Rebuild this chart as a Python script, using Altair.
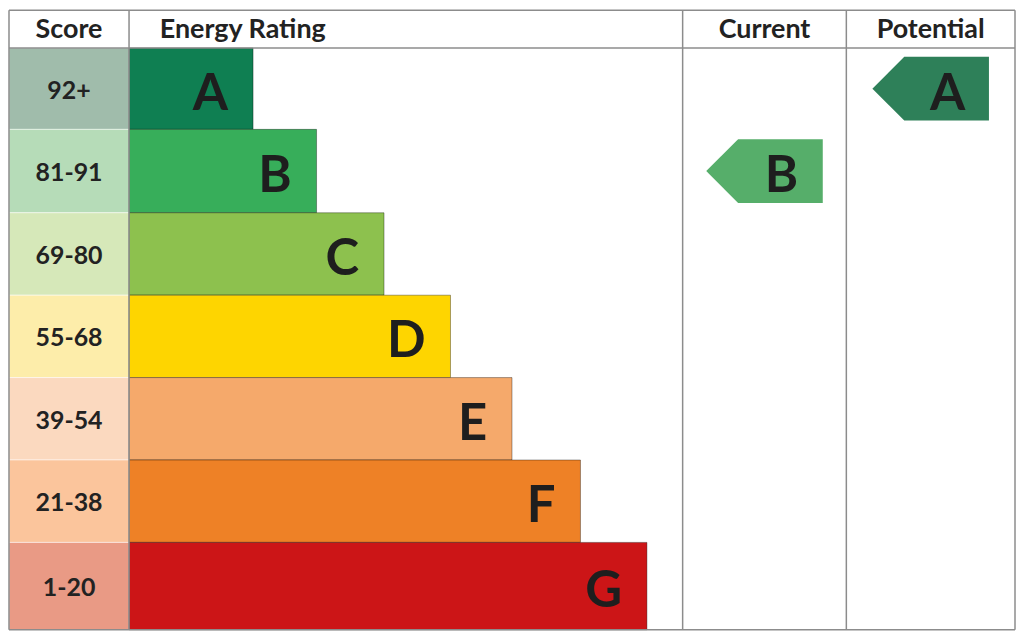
import pandas as pd
import altair as alt

# Bands, score ranges and the length of each rating bar (same units as the table)
bands = ["A", "B", "C", "D", "E", "F", "G"]
scores = ["92+", "81-91", "69-80", "55-68", "39-54", "21-38", "1-20"]
bar_length = [125, 189, 257, 324, 386, 455, 522]
band_colors = ["#0f7f52", "#37ae5a", "#8dc14e", "#fed500", "#f5a96b", "#ee8126", "#cc1517"]
score_colors = ["#a0bcab", "#b6dcb8", "#d6e8b9", "#fdedaa", "#fbd9bf", "#fbc59c", "#e99a85"]

# Table layout: column edges, header height, row edges
columns = ["Score", "Energy Rating", "Current", "Potential"]
col_edges = [0, 121, 679, 844, 1014]
row_edges = [38, 120, 204, 287, 370, 453, 536, 624]

# Ratings shown as arrows
current_rating = "B"
potential_rating = "A"
current_color = "#56ae6a"
potential_color = "#2e8059"

W, H = 1014, 624
xs = alt.Scale(domain=[0, W], nice=False, zero=False)
ys = alt.Scale(domain=[H, 0], nice=False, zero=False)
FONT = "Lato"

rows = pd.DataFrame({
    "band": bands,
    "score": scores,
    "top": row_edges[:-1],
    "bottom": row_edges[1:],
    "bar_start": [col_edges[1]] * 7,
    "bar_end": [col_edges[1] + b for b in bar_length],
    "band_color": band_colors,
    "score_color": score_colors,
})
rows["mid"] = (rows["top"] + rows["bottom"]) / 2
rows["score_x"] = (col_edges[0] + col_edges[1]) / 2
rows["score_x0"] = col_edges[0]

score_cells = alt.Chart(rows).mark_rect(stroke="#ffffff", strokeWidth=1, strokeOpacity=0.5).encode(
    x=alt.X("score_x0:Q", scale=xs, axis=None),
    x2="bar_start:Q",
    y=alt.Y("top:Q", scale=ys, axis=None),
    y2="bottom:Q",
    color=alt.Color("score_color:N", scale=None),
)

score_text = alt.Chart(rows).mark_text(
    font=FONT, fontWeight="bold", fontSize=25, color="#222222", baseline="middle", dy=2
).encode(
    x=alt.X("score_x:Q", scale=xs),
    y=alt.Y("mid:Q", scale=ys),
    text="score:N",
)

bars = alt.Chart(rows).mark_rect(stroke="#000000", strokeOpacity=0.35, strokeWidth=1).encode(
    x=alt.X("bar_start:Q", scale=xs),
    x2="bar_end:Q",
    y=alt.Y("top:Q", scale=ys),
    y2="bottom:Q",
    color=alt.Color("band_color:N", scale=None),
)

letters = alt.Chart(rows).mark_text(
    font=FONT, fontWeight="bold", fontSize=51, color="#1e1e1e",
    align="right", baseline="middle", dx=-25, dy=6,
).encode(
    x=alt.X("bar_end:Q", scale=xs),
    y=alt.Y("mid:Q", scale=ys),
    text="band:N",
)

# Header texts
header = pd.DataFrame({
    "label": columns,
    "x": [(col_edges[0] + col_edges[1]) / 2, col_edges[1] + 31,
          (col_edges[2] + col_edges[3]) / 2, (col_edges[3] + col_edges[4]) / 2],
    "align": ["center", "left", "center", "center"],
    "y": [row_edges[0] / 2] * 4,
})
header_c = alt.Chart(header[header["align"] == "center"]).mark_text(
    font=FONT, fontWeight="bold", fontSize=27, color="#222222", baseline="middle", align="center", dy=1
).encode(x=alt.X("x:Q", scale=xs), y=alt.Y("y:Q", scale=ys), text="label:N")
header_l = alt.Chart(header[header["align"] == "left"]).mark_text(
    font=FONT, fontWeight="bold", fontSize=27, color="#222222", baseline="middle", align="left", dy=1
).encode(x=alt.X("x:Q", scale=xs), y=alt.Y("y:Q", scale=ys), text="label:N")

# Grid lines
vlines = pd.DataFrame({"x": col_edges, "y0": 0, "y1": H})
hlines = pd.DataFrame({"y": [0, row_edges[0], H], "x0": 0, "x1": W})
vrule = alt.Chart(vlines).mark_rule(color="#8c8c8c", strokeWidth=1.5).encode(
    x=alt.X("x:Q", scale=xs), y=alt.Y("y0:Q", scale=ys), y2="y1:Q"
)
hrule = alt.Chart(hlines).mark_rule(color="#8c8c8c", strokeWidth=1.5).encode(
    y=alt.Y("y:Q", scale=ys), x=alt.X("x0:Q", scale=xs), x2="x1:Q"
)

# Arrows for current and potential ratings
arrow_df = pd.DataFrame({
    "col": ["Current", "Potential"],
    "band": [current_rating, potential_rating],
    "color": [current_color, potential_color],
})
arrow_df["x"] = [(col_edges[2] + col_edges[3]) / 2, (col_edges[3] + col_edges[4]) / 2]
arrow_df["y"] = [rows.set_index("band").loc[b, "mid"] for b in arrow_df["band"]]

arrow_path = "M -1 0 L -0.453 -0.547 L 1 -0.547 L 1 0.547 L -0.453 0.547 Z"
arrows = alt.Chart(arrow_df).mark_point(
    shape=arrow_path, filled=True, opacity=1, size=13689, strokeWidth=0
).encode(
    x=alt.X("x:Q", scale=xs),
    y=alt.Y("y:Q", scale=ys),
    color=alt.Color("color:N", scale=None),
)
arrow_text = alt.Chart(arrow_df).mark_text(
    font=FONT, fontWeight="bold", fontSize=51, color="#1e1e1e",
    align="center", baseline="middle", dx=17, dy=6,
).encode(
    x=alt.X("x:Q", scale=xs),
    y=alt.Y("y:Q", scale=ys),
    text="band:N",
)

chart = alt.layer(
    score_cells, bars, score_text, letters, vrule, hrule,
    header_c, header_l, arrows, arrow_text,
).properties(
    width=1010, height=622, autosize="none", padding=1, background="white"
).configure_view(stroke=None)

chart.save("out.html", embed_options={"renderer": "svg", "actions": False})
